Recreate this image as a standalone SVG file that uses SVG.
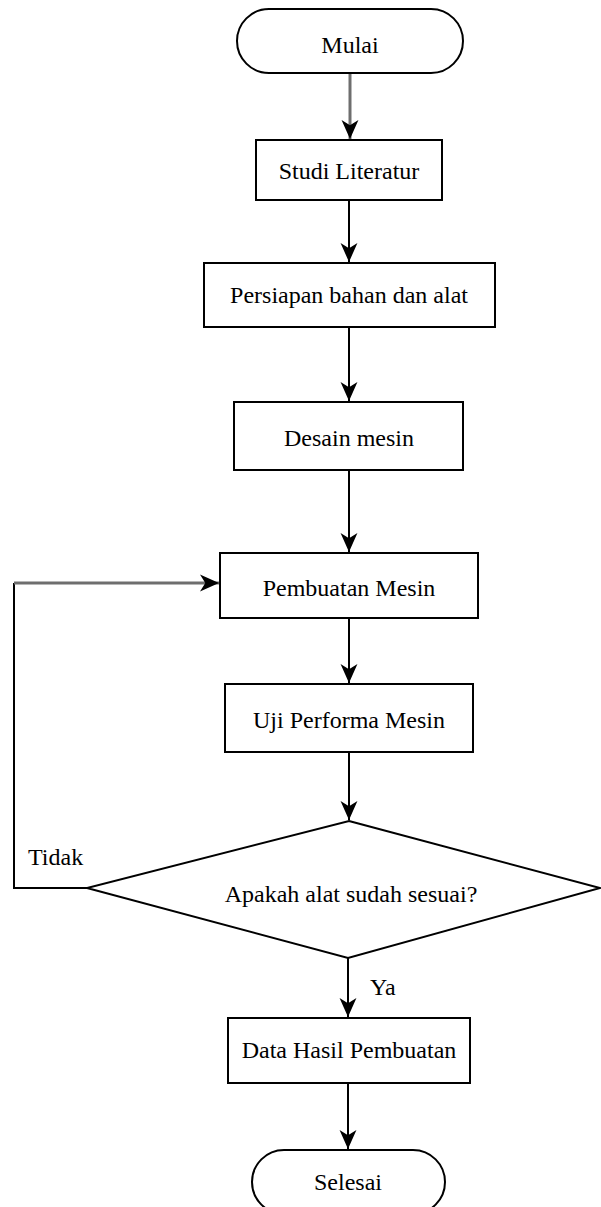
<svg xmlns="http://www.w3.org/2000/svg" width="601" height="1207" viewBox="0 0 601 1207">
<style>
.n{fill:#fff;stroke:#000;stroke-width:2}
.t{font-family:"Liberation Serif","Times New Roman",serif;font-size:24px;fill:#000;text-anchor:middle}
.l{font-family:"Liberation Serif","Times New Roman",serif;font-size:24px;fill:#000}
.c{fill:none;stroke:#000;stroke-width:2}
.g{fill:none;stroke:#6e6e6e;stroke-width:3}
</style>
<defs>
<marker id="ah" markerUnits="userSpaceOnUse" markerWidth="19" markerHeight="18" refX="18" refY="8" orient="auto" viewBox="0 0 18 16">
<path d="M0,0 L18,8 L0,16 L5,8 Z" fill="#000"/>
</marker>
</defs>
<rect width="601" height="1207" fill="#fff"/>
<g id="connectors">
<line class="g" x1="350" y1="73" x2="350" y2="139" marker-end="url(#ah)"/>
<line class="c" x1="349" y1="200" x2="349" y2="262" marker-end="url(#ah)"/>
<line class="c" x1="349" y1="327" x2="349" y2="401" marker-end="url(#ah)"/>
<line class="c" x1="349" y1="470" x2="349" y2="552" marker-end="url(#ah)"/>
<line class="c" x1="349" y1="618" x2="349" y2="683" marker-end="url(#ah)"/>
<line class="c" x1="349" y1="752" x2="349" y2="820" marker-end="url(#ah)"/>
<line class="c" x1="348" y1="958" x2="348" y2="1017" marker-end="url(#ah)"/>
<line class="c" x1="348" y1="1083" x2="348" y2="1149" marker-end="url(#ah)"/>
<polyline class="c" points="87,888 14,888 14,583"/>
<line class="g" x1="14" y1="583" x2="219" y2="583" marker-end="url(#ah)"/>
<text class="l" x="28" y="865">Tidak</text>
<text class="l" x="370" y="995">Ya</text>
</g>
<g id="mulai">
<rect class="n" x="237" y="9" width="226" height="64" rx="32" ry="32"/>
<text class="t" x="350" y="53">Mulai</text>
</g>
<g id="studi">
<rect class="n" x="256" y="140" width="186" height="60"/>
<text class="t" x="349" y="179">Studi Literatur</text>
</g>
<g id="persiapan">
<rect class="n" x="204" y="263" width="291" height="64"/>
<text class="t" x="349" y="303">Persiapan bahan dan alat</text>
</g>
<g id="desain">
<rect class="n" x="234" y="402" width="229" height="68"/>
<text class="t" x="349" y="446">Desain mesin</text>
</g>
<g id="pembuatan">
<rect class="n" x="220" y="553" width="258" height="65"/>
<text class="t" x="349" y="596">Pembuatan Mesin</text>
</g>
<g id="uji">
<rect class="n" x="225" y="684" width="248" height="68"/>
<text class="t" x="349" y="728">Uji Performa Mesin</text>
</g>
<g id="keputusan">
<polygon class="n" points="349,821 600,888 348,958 87,888"/>
<text class="t" x="351" y="902">Apakah alat sudah sesuai?</text>
</g>
<g id="data">
<rect class="n" x="228" y="1018" width="242" height="65"/>
<text class="t" x="349" y="1058">Data Hasil Pembuatan</text>
</g>
<g id="selesai">
<rect class="n" x="252" y="1150" width="193" height="64" rx="32" ry="32"/>
<text class="t" x="348" y="1190">Selesai</text>
</g>
</svg>
